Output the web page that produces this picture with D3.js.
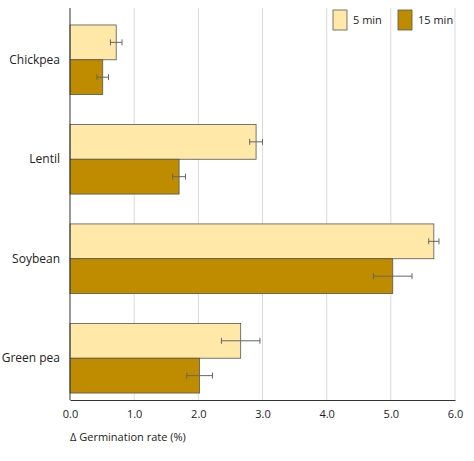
<!DOCTYPE html>
<html><head><meta charset="utf-8">
<script src="https://cdn.jsdelivr.net/npm/d3@7"></script>
<style>body{margin:0;background:#fff}</style></head>
<body><svg id="c" width="474" height="461"></svg>
<script>
const categories=["Chickpea","Lentil","Soybean","Green pea"];
const seriesNames=["5 min","15 min"];
const colors=["#FFE8A8","#BF8C00"];
const values5=[0.72,2.9,5.67,2.66];
const err5=[0.09,0.1,0.08,0.3];
const values15=[0.51,1.7,5.03,2.02];
const err15=[0.09,0.1,0.3,0.2];
const ticks=[0,1,2,3,4,5,6];

const svg=d3.select("#c");
const m={l:70,r:19,t:18,b:400};
const x=d3.scaleLinear().domain([0,6]).range([m.l,474-m.r]);
const y=d3.scaleBand().domain(categories).range([m.t,m.b]).paddingInner(0.3).paddingOuter(0.07);
const sub=d3.scaleBand().domain(seriesNames).range([0,y.bandwidth()]);

svg.selectAll(".g").data(ticks.slice(1)).enter().append("line")
 .attr("x1",d=>x(d)).attr("x2",d=>x(d)).attr("y1",m.t-10).attr("y2",m.b)
 .attr("stroke","#d9d9d9");

const series=[values5,values15], errs=[err5,err15];
series.forEach((vals,si)=>{
  categories.forEach((c,i)=>{
    const yy=y(c)+sub(seriesNames[si]);
    svg.append("rect").attr("x",x(0)).attr("y",yy).attr("width",x(vals[i])-x(0))
      .attr("height",sub.bandwidth()).attr("fill",colors[si]).attr("stroke","#555").attr("stroke-width",0.8);
    const cy=yy+sub.bandwidth()/2, e=errs[si][i];
    svg.append("line").attr("x1",x(vals[i]-e)).attr("x2",x(vals[i]+e)).attr("y1",cy).attr("y2",cy).attr("stroke","#666");
    [vals[i]-e,vals[i]+e].forEach(v=>svg.append("line").attr("x1",x(v)).attr("x2",x(v)).attr("y1",cy-3).attr("y2",cy+3).attr("stroke","#666"));
  });
});

const ax=svg.append("g").attr("transform",`translate(0,${m.b})`).call(d3.axisBottom(x).tickValues(ticks).tickSize(0).tickPadding(10));
ax.select(".domain").attr("stroke","#333");
ax.selectAll("text").attr("font-family","Open Sans").attr("font-size",11).attr("fill","#222");
svg.append("line").attr("x1",m.l).attr("x2",m.l).attr("y1",m.t-10).attr("y2",m.b).attr("stroke","#333");
categories.forEach(c=>svg.append("text").attr("x",m.l-10).attr("y",y(c)+y.bandwidth()/2+4)
  .attr("text-anchor","end").attr("font-family","Open Sans").attr("font-size",12).attr("fill","#222").text(c));
svg.append("text").attr("x",70).attr("y",441).attr("font-family","Open Sans").attr("font-size",11).attr("fill","#222").text("Δ Germination rate (%)");

const lg=svg.append("g");
seriesNames.forEach((n,i)=>{
  const lx=333+i*65;
  lg.append("rect").attr("x",lx).attr("y",10).attr("width",14).attr("height",20).attr("fill",colors[i]).attr("stroke","#555").attr("stroke-width",0.8);
  lg.append("text").attr("x",lx+20).attr("y",24).attr("font-family","Open Sans").attr("font-size",11).attr("fill","#222").text(n);
});
</script></body></html>
